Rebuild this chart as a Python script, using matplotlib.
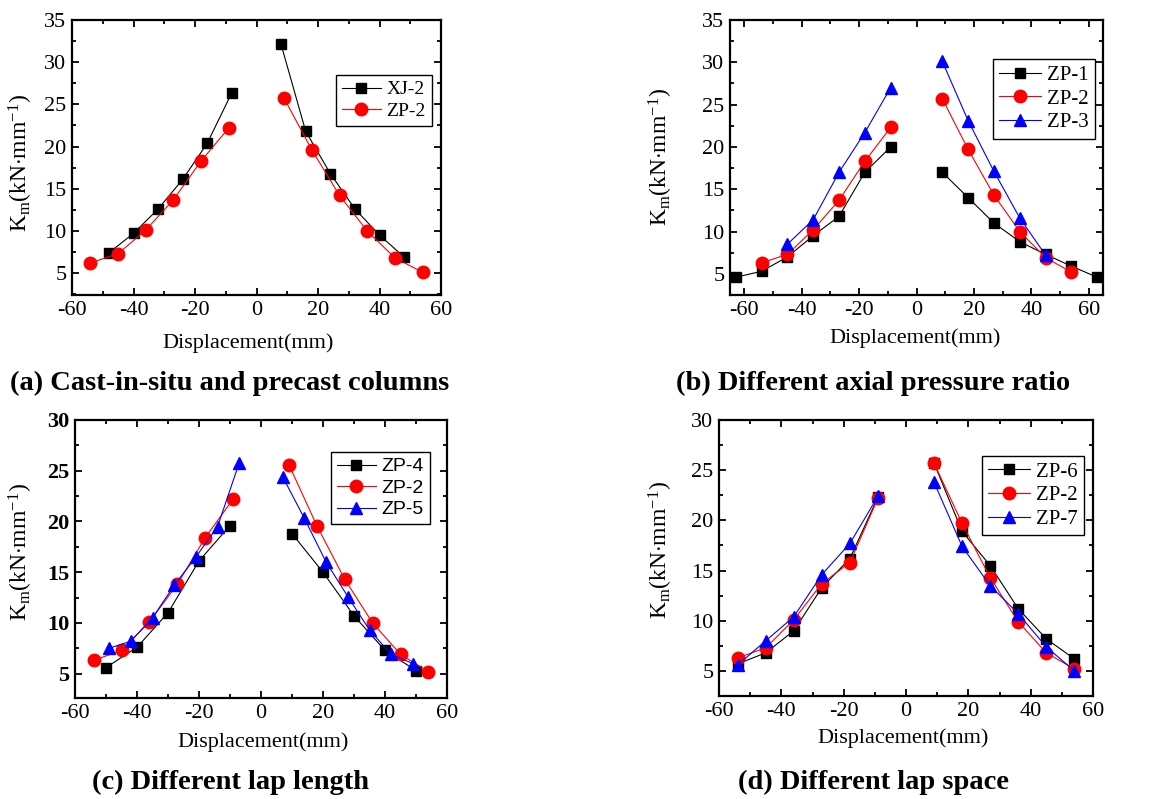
import numpy as np
import matplotlib
matplotlib.use("Agg")
import matplotlib.pyplot as plt
from matplotlib.ticker import MultipleLocator

plt.rcParams['font.family'] = ['Liberation Serif', 'DejaVu Serif']
plt.rcParams['mathtext.fontset'] = 'custom'
plt.rcParams['mathtext.rm'] = 'Liberation Serif'
plt.rcParams['mathtext.it'] = 'Liberation Serif:italic'
plt.rcParams['axes.unicode_minus'] = False

# ---- data ----
# (a) cast-in-situ vs precast
a_xj2_x = [-48, -40, -32, -24, -16, -8, 8, 16, 24, 32, 40, 48]
a_xj2_y = [7.4, 9.7, 12.6, 16.1, 20.4, 26.4, 32.1, 21.8, 16.8, 12.6, 9.5, 6.9]
a_zp2_x = [-54, -45, -36, -27, -18, -9, 9, 18, 27, 36, 45, 54]
a_zp2_y = [6.2, 7.3, 10.1, 13.7, 18.3, 22.2, 25.7, 19.6, 14.2, 10.0, 6.8, 5.1]

# (b) axial pressure ratio
b_zp1_x = [-63, -54, -45, -36, -27, -18, -9, 9, 18, 27, 36, 45, 54, 63]
b_zp1_y = [4.6, 5.3, 7.0, 9.5, 11.8, 17.0, 20.0, 17.0, 14.0, 11.0, 8.8, 7.3, 5.9, 4.6]
b_zp2_x = [-54, -45, -36, -27, -18, -9, 9, 18, 27, 36, 45, 54]
b_zp2_y = [6.3, 7.3, 10.2, 13.7, 18.3, 22.3, 25.7, 19.7, 14.3, 10.0, 6.9, 5.2]
b_zp3_x = [-45, -36, -27, -18, -9, 9, 18, 27, 36, 45]
b_zp3_y = [8.5, 11.4, 17.0, 21.7, 27.0, 30.1, 23.1, 17.1, 11.6, 7.2]

# (c) lap length
c_zp4_x = [-50, -40, -30, -20, -10, 10, 20, 30, 40, 50]
c_zp4_y = [5.6, 7.6, 11.0, 16.1, 19.6, 18.8, 15.0, 10.7, 7.3, 5.3]
c_zp2_x = [-54, -45, -36, -27, -18, -9, 9, 18, 27, 36, 45, 54]
c_zp2_y = [6.3, 7.3, 10.1, 13.8, 18.4, 22.2, 25.6, 19.6, 14.3, 10.0, 6.9, 5.2]
c_zp5_x = [-49, -42, -35, -28, -21, -14, -7, 7, 14, 21, 28, 35, 42, 49]
c_zp5_y = [7.5, 8.2, 10.5, 13.7, 16.5, 19.5, 25.8, 24.4, 20.3, 16.0, 12.6, 9.3, 6.9, 6.0]

# (d) lap space
d_x = [-54, -45, -36, -27, -18, -9, 9, 18, 27, 36, 45, 54]
d_zp6_y = [5.7, 6.8, 9.0, 13.3, 16.2, 22.3, 25.7, 18.9, 15.5, 11.2, 8.2, 6.2]
d_zp2_y = [6.3, 7.3, 10.1, 13.7, 15.8, 22.2, 25.7, 19.7, 14.3, 9.9, 6.8, 5.2]
d_zp7_y = [5.6, 8.0, 10.4, 14.6, 17.7, 22.4, 23.8, 17.4, 13.5, 10.7, 7.4, 5.0]

W, H = 1170, 799
fig = plt.figure(figsize=(W / 100, H / 100), dpi=100)


def make_ax(x0, y0, x1, y1):
    return fig.add_axes([x0 / W, 1 - y1 / H, (x1 - x0) / W, (y1 - y0) / H])


def style(ax, xlim, ylim, xstep, ystep):
    ax.set_xlim(*xlim)
    ax.set_ylim(*ylim)
    ax.xaxis.set_major_locator(MultipleLocator(xstep))
    ax.xaxis.set_minor_locator(MultipleLocator(xstep / 2))
    ax.yaxis.set_major_locator(MultipleLocator(ystep))
    ax.yaxis.set_minor_locator(MultipleLocator(ystep / 2))
    ax.tick_params(which='both', direction='in', top=True, right=True,
                   labelsize=16, width=1.3, pad=4)
    ax.tick_params(which='major', length=5)
    ax.tick_params(which='minor', length=3)
    for s in ax.spines.values():
        s.set_linewidth(1.6)


def series(ax, x, y, color, marker, label, ms):
    # loading (negative) and unloading (positive) branches drawn apart
    x = np.asarray(x)
    y = np.asarray(y)
    neg = x < 0
    ax.plot(x[neg], y[neg], color=color, lw=0.8, marker=marker, ms=ms,
            mec=color, mfc=color, label=label)
    ax.plot(x[~neg], y[~neg], color=color, lw=0.8, marker=marker, ms=ms,
            mec=color, mfc=color)


ylab = r'K$_\mathrm{m}$(kN$\cdot$mm$^{-1}$)'
leg_kw = dict(fancybox=False, edgecolor='black', framealpha=1, handlelength=2.0,
              labelspacing=0.2, borderpad=0.3, handletextpad=0.3, borderaxespad=0)

# (a)
ax = make_ax(72, 20, 441, 295)
style(ax, (-60, 60), (2.4, 35), 20, 5)
series(ax, a_xj2_x, a_xj2_y, 'black', 's', 'XJ-2', 7.5)
series(ax, a_zp2_x, a_zp2_y, 'red', 'o', 'ZP-2', 9)
ax.set_ylabel(ylab, fontsize=17)
ax.set_xlabel('Displacement(mm)', fontsize=16)
ax.yaxis.set_label_coords(-0.10, 0.48)
ax.xaxis.set_label_coords(0.477, -0.138)
ax.legend(loc='upper left', bbox_to_anchor=(0.715, 0.80), fontsize=14, **leg_kw)

# (b)
ax = make_ax(730, 20, 1103, 295)
style(ax, (-65, 65), (2.5, 35), 20, 5)
series(ax, b_zp1_x, b_zp1_y, 'black', 's', 'ZP-1', 7.5)
series(ax, b_zp2_x, b_zp2_y, 'red', 'o', 'ZP-2', 9)
series(ax, b_zp3_x, b_zp3_y, 'blue', '^', 'ZP-3', 9)
ax.set_ylabel(ylab, fontsize=17)
ax.set_xlabel('Displacement(mm)', fontsize=16)
ax.yaxis.set_label_coords(-0.147, 0.50)
ax.xaxis.set_label_coords(0.496, -0.12)
ax.legend(loc='upper left', bbox_to_anchor=(0.705, 0.858), fontsize=15, **leg_kw)

# (c)
ax = make_ax(75, 420, 447, 698)
style(ax, (-60, 60), (2.6, 30), 20, 5)
for t in ax.get_yticklabels():
    t.set_fontweight('bold')
series(ax, c_zp4_x, c_zp4_y, 'black', 's', 'ZP-4', 7.5)
series(ax, c_zp2_x, c_zp2_y, 'red', 'o', 'ZP-2', 9)
series(ax, c_zp5_x, c_zp5_y, 'blue', '^', 'ZP-5', 9)
ax.set_ylabel(ylab, fontsize=17)
ax.set_xlabel('Displacement(mm)', fontsize=16)
ax.yaxis.set_label_coords(-0.108, 0.525)
ax.xaxis.set_label_coords(0.505, -0.122)
ax.legend(loc='upper left', bbox_to_anchor=(0.688, 0.885),
          prop={'family': 'Liberation Sans', 'size': 14}, **leg_kw)

# (d)
ax = make_ax(719, 420, 1093, 696)
style(ax, (-60, 60), (2.5, 30), 20, 5)
series(ax, d_x, d_zp6_y, 'black', 's', 'ZP-6', 7.5)
series(ax, d_x, d_zp2_y, 'red', 'o', 'ZP-2', 9)
series(ax, d_x, d_zp7_y, 'blue', '^', 'ZP-7', 9)
ax.set_ylabel(ylab, fontsize=17)
ax.set_xlabel('Displacement(mm)', fontsize=16)
ax.yaxis.set_label_coords(-0.118, 0.53)
ax.xaxis.set_label_coords(0.492, -0.116)
ax.legend(loc='upper left', bbox_to_anchor=(0.703, 0.87), fontsize=15, **leg_kw)

# captions
caps = ['(a) Cast-in-situ and precast columns', '(b) Different axial pressure ratio',
        '(c) Different lap length', '(d) Different lap space']
cap_pos = [(230, 383), (873, 383), (230, 782), (873, 782)]
for c, (px, py) in zip(caps, cap_pos):
    fig.text(px / W, 1 - py / H, c, ha='center', va='center',
             fontsize=20.5, fontweight='bold')

fig.savefig('out.png', dpi=100)
